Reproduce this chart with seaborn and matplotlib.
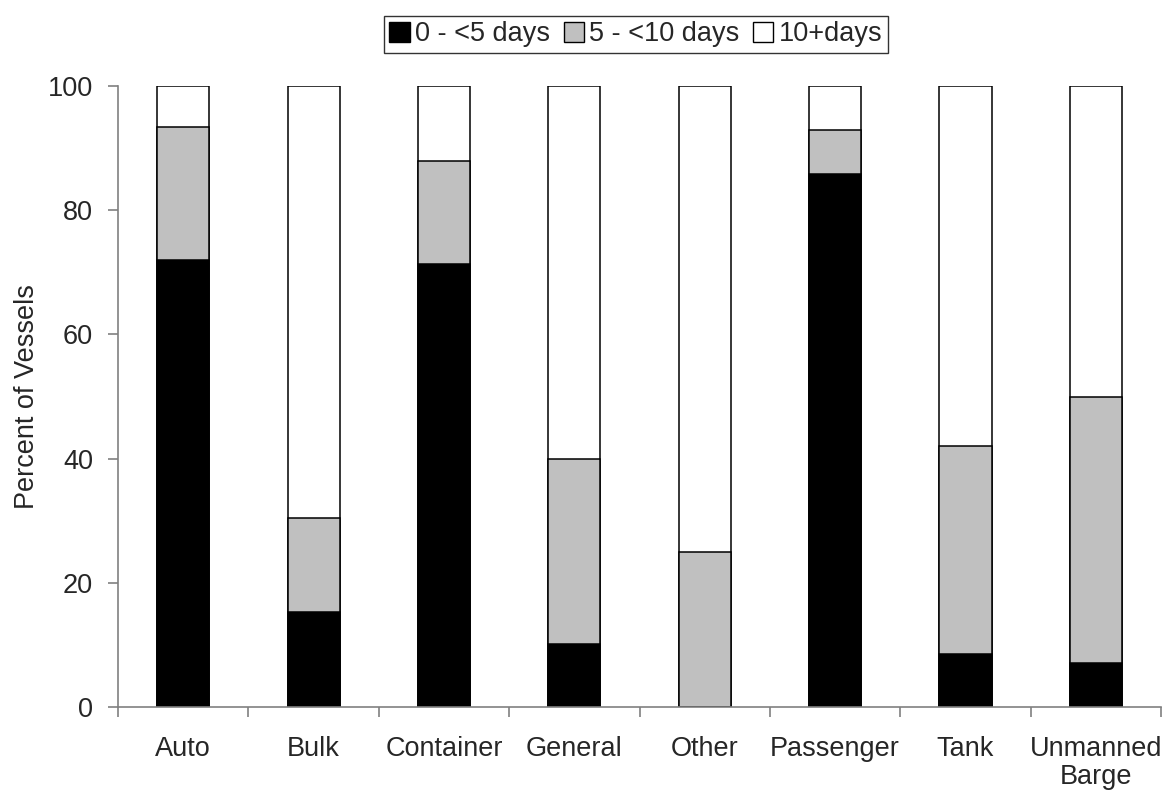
import numpy as np
import pandas as pd
import matplotlib
matplotlib.use("Agg")
import matplotlib.pyplot as plt
import matplotlib.patches as mpatches
import seaborn as sns

# vessel types and share of vessels (%) per length-of-stay group
categories = ["Auto", "Bulk", "Container", "General", "Other",
              "Passenger", "Tank", "Unmanned\nBarge"]
short_stay = [72.0, 15.3, 71.3, 10.1, 0.0, 85.8, 8.6, 7.1]      # 0 - <5 days
mid_stay = [21.4, 15.1, 16.6, 29.9, 25.0, 7.1, 33.4, 42.9]      # 5 - <10 days
series_names = ["0 - <5 days", "5 - <10 days", "10+days"]
series_colors = ["#000000", "#c0c0c0", "#ffffff"]

df = pd.DataFrame({"type": categories, "short": short_stay, "mid": mid_stay})
df["long"] = 100 - df["short"] - df["mid"]
df["cum_mid"] = df["short"] + df["mid"]
df["cum_long"] = df["cum_mid"] + df["long"]

sns.set_style("ticks")
plt.rcParams["font.family"] = ["Liberation Sans", "DejaVu Sans"]
fs = 19.5

fig, ax = plt.subplots(figsize=(11.71, 7.93), dpi=100)
fig.subplots_adjust(left=0.1008, right=0.9915, top=0.8915, bottom=0.1085)

# stacked bars: draw the cumulative totals from the top down
for col, color in zip(["cum_long", "cum_mid", "short"], series_colors[::-1]):
    sns.barplot(data=df, x="type", y=col, color=color, edgecolor="black",
                linewidth=1.1, width=0.4, saturation=1, ax=ax)

ax.set_xlim(-0.5, 7.5)
ax.set_ylim(0, 100)
ax.set_yticks(np.arange(0, 101, 20))
ax.set_xticks(np.arange(-0.5, 8, 1), minor=True)
ax.set_xlabel("")
ax.set_ylabel("Percent of Vessels", fontsize=fs, labelpad=5.5)

sns.despine(ax=ax)
for side in ["left", "bottom"]:
    ax.spines[side].set_color("#808080")
    ax.spines[side].set_linewidth(1.2)

ax.tick_params(axis="y", length=7, width=1.2, color="#808080", pad=11, labelsize=fs)
ax.tick_params(axis="x", which="major", length=0, pad=21, labelsize=fs)
ax.tick_params(axis="x", which="minor", length=7, width=1.2, color="#808080")
for lbl in ax.get_xticklabels():
    lbl.set_linespacing(1.1)

handles = [mpatches.Patch(facecolor=c, edgecolor="black", linewidth=1) for c in series_colors]
leg = fig.legend(handles, series_names, loc="center", bbox_to_anchor=(0.543, 0.957),
                 ncol=3, fontsize=fs, frameon=True, fancybox=False,
                 handlelength=0.75, handleheight=0.75, handletextpad=0.2,
                 columnspacing=0.5, borderpad=0.2)
leg.get_frame().set_edgecolor("black")
leg.get_frame().set_linewidth(1.0)

fig.savefig("out.png", dpi=100)
